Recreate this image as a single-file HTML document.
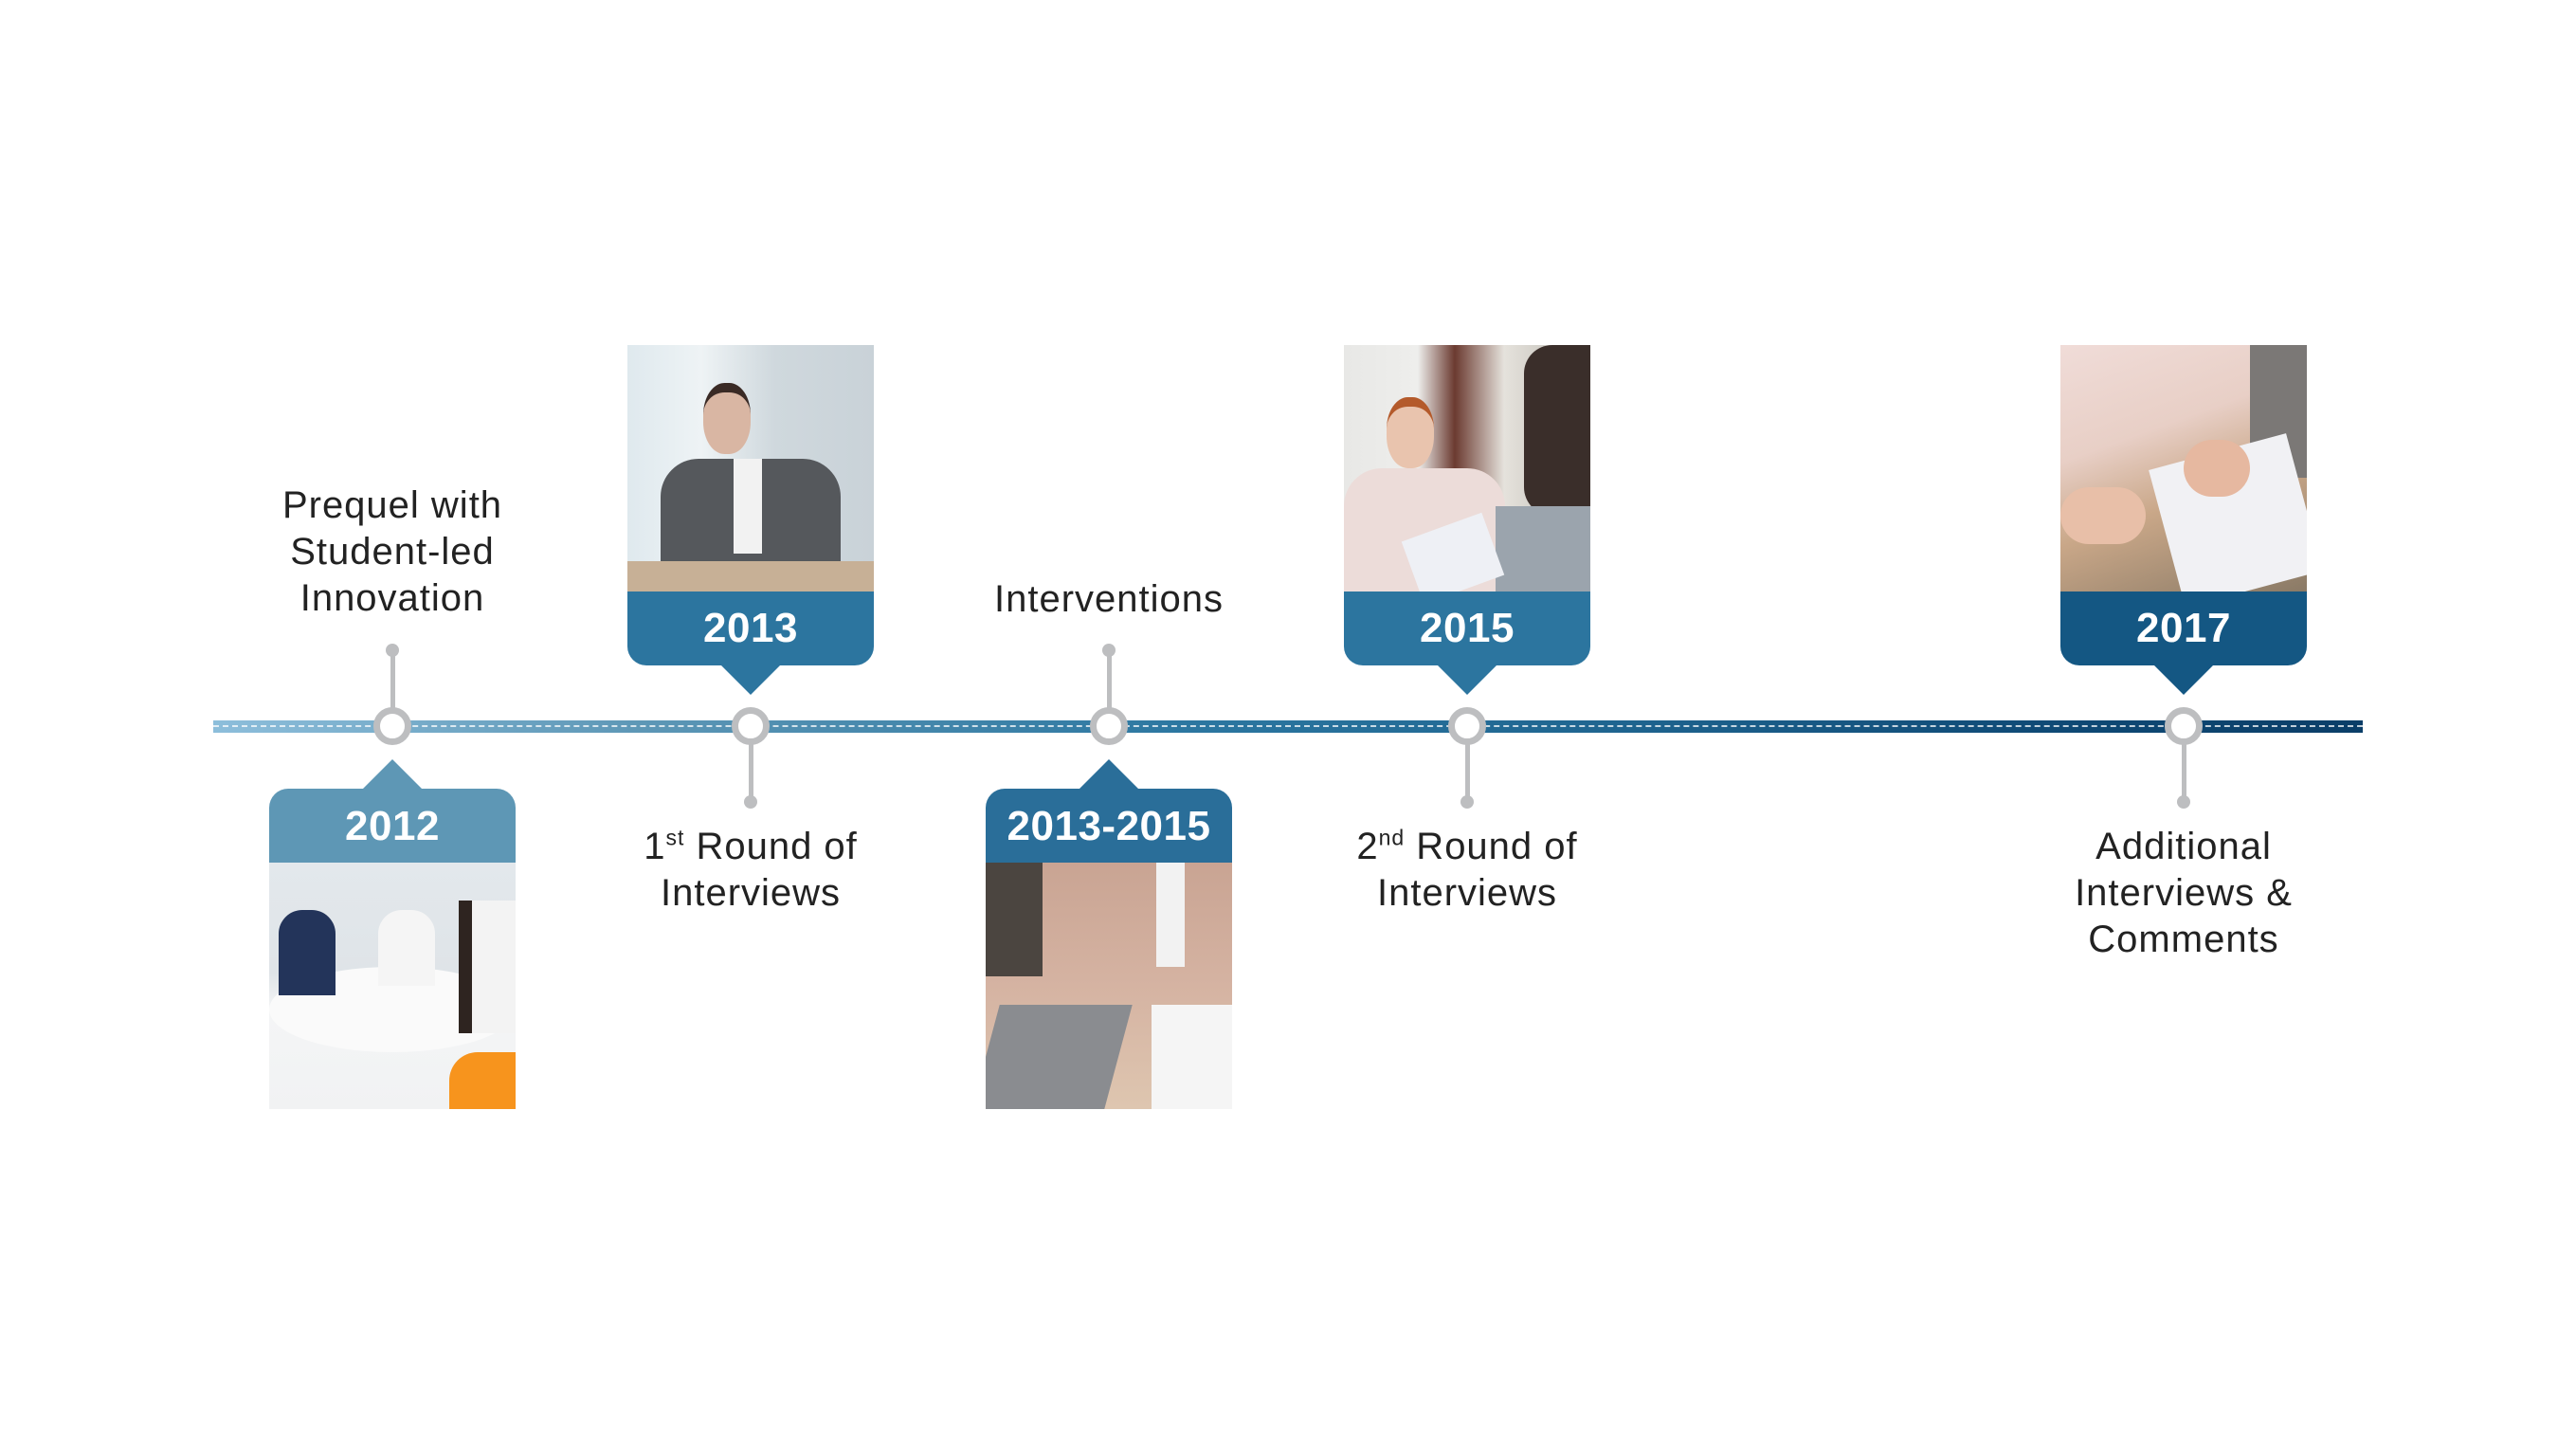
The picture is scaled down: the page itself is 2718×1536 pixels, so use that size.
<!DOCTYPE html>
<html><head><meta charset="utf-8"><style>
html,body{margin:0;padding:0;background:#fff}
body{width:2718px;height:1536px;position:relative;overflow:hidden;font-family:"Liberation Sans",sans-serif}
.abs{position:absolute}
.line{left:225px;top:760px;width:2268px;height:13px;background:linear-gradient(90deg,#8dbedb 0%,#5d97b6 20%,#2c77a1 45%,#1f6590 65%,#0f4a76 85%,#0b3e68 100%)}
.dash{left:225px;top:765px;width:2268px;height:0;border-top:2px dashed rgba(255,255,255,.75)}
.node{box-sizing:border-box;width:40px;height:40px;border:7px solid #bdbec0;border-radius:50%;background:#fff}
.stem{width:5px;background:#bdbec0}
.dot{width:14px;height:14px;border-radius:50%;background:#bdbec0}
.txt{color:#222;font-size:40px;line-height:49px;text-align:center;width:440px;letter-spacing:1px}
.txt sup{font-size:23px;line-height:0}
.year{color:#fff;font-size:44px;font-weight:bold;text-align:center;width:260px;letter-spacing:0.5px}
.photo{width:260px;height:260px;overflow:hidden}
</style></head><body>
<div class="abs line"></div>
<div class="abs dash"></div>

<!-- stems -->
<div class="abs stem" style="left:412px;top:686px;height:80px"></div>
<div class="abs dot" style="left:407px;top:679px"></div>
<div class="abs stem" style="left:1168px;top:686px;height:80px"></div>
<div class="abs dot" style="left:1163px;top:679px"></div>
<div class="abs stem" style="left:790px;top:766px;height:80px"></div>
<div class="abs dot" style="left:785px;top:839px"></div>
<div class="abs stem" style="left:1546px;top:766px;height:80px"></div>
<div class="abs dot" style="left:1541px;top:839px"></div>
<div class="abs stem" style="left:2302px;top:766px;height:80px"></div>
<div class="abs dot" style="left:2297px;top:839px"></div>

<!-- nodes -->
<div class="abs node" style="left:394px;top:746px"></div>
<div class="abs node" style="left:772px;top:746px"></div>
<div class="abs node" style="left:1150px;top:746px"></div>
<div class="abs node" style="left:1528px;top:746px"></div>
<div class="abs node" style="left:2284px;top:746px"></div>

<!-- top cards -->
<div class="abs photo" style="left:662px;top:364px;background:linear-gradient(90deg,#dfe9ee 0%,#eef3f5 30%,#cfd8dd 60%,#c9d2d8 100%)">
  <div class="abs" style="left:80px;top:40px;width:50px;height:65px;border-radius:45%;background:#d9b6a3;border-top:10px solid #3a2a25"></div>
  <div class="abs" style="left:35px;top:120px;width:190px;height:110px;background:#55585c;border-radius:40px 40px 0 0"></div>
  <div class="abs" style="left:112px;top:120px;width:30px;height:100px;background:#f2f2f2"></div>
  <div class="abs" style="left:0;top:228px;width:260px;height:32px;background:#c7b096"></div>
</div>
<div class="abs" style="left:662px;top:624px;width:260px;height:78px;background:#2c759f;border-radius:0 0 20px 20px"></div>
<div class="abs" style="left:759px;top:700px;width:0;height:0;border-left:33px solid transparent;border-right:33px solid transparent;border-top:33px solid #2c759f"></div>
<div class="abs year" style="left:662px;top:638px">2013</div>

<div class="abs photo" style="left:1418px;top:364px;background:linear-gradient(90deg,#e8e8e6 0%,#eeeeec 30%,#6b3a30 45%,#e5e2dc 65%,#b8b5ae 100%)">
  <div class="abs" style="left:45px;top:55px;width:50px;height:65px;border-radius:45%;background:#e9c4ae;border-top:10px solid #b45a2b"></div>
  <div class="abs" style="left:0;top:130px;width:170px;height:130px;background:#ecdcd9;border-radius:40px 40px 0 0"></div>
  <div class="abs" style="left:190px;top:0;width:70px;height:180px;background:#3a2e2a;border-radius:30px 0 0 30px"></div>
  <div class="abs" style="left:160px;top:170px;width:100px;height:90px;background:#9ba4ad"></div>
  <div class="abs" style="left:70px;top:190px;width:90px;height:70px;background:#eef0f5;transform:rotate(-20deg)"></div>
</div>
<div class="abs" style="left:1418px;top:624px;width:260px;height:78px;background:#2c759f;border-radius:0 0 20px 20px"></div>
<div class="abs" style="left:1515px;top:700px;width:0;height:0;border-left:33px solid transparent;border-right:33px solid transparent;border-top:33px solid #2c759f"></div>
<div class="abs year" style="left:1418px;top:638px">2015</div>

<div class="abs photo" style="left:2174px;top:364px;background:linear-gradient(160deg,#f0dcd8 0%,#e8cfc6 35%,#c9a788 60%,#8a7a66 100%)">
  <div class="abs" style="left:200px;top:0;width:60px;height:140px;background:#7b7876"></div>
  <div class="abs" style="left:110px;top:110px;width:150px;height:150px;background:#f1f1f4;transform:rotate(-15deg)"></div>
  <div class="abs" style="left:0;top:150px;width:90px;height:60px;background:#e8bfa8;border-radius:30px"></div>
  <div class="abs" style="left:130px;top:100px;width:70px;height:60px;background:#e6b8a0;border-radius:30px"></div>
</div>
<div class="abs" style="left:2174px;top:624px;width:260px;height:78px;background:#145783;border-radius:0 0 20px 20px"></div>
<div class="abs" style="left:2271px;top:700px;width:0;height:0;border-left:33px solid transparent;border-right:33px solid transparent;border-top:33px solid #145783"></div>
<div class="abs year" style="left:2174px;top:638px">2017</div>

<!-- bottom cards -->
<div class="abs" style="left:381px;top:801px;width:0;height:0;border-left:33px solid transparent;border-right:33px solid transparent;border-bottom:33px solid #5e97b5"></div>
<div class="abs" style="left:284px;top:832px;width:260px;height:78px;background:#5e97b5;border-radius:20px 20px 0 0"></div>
<div class="abs year" style="left:284px;top:847px">2012</div>
<div class="abs photo" style="left:284px;top:910px;background:linear-gradient(180deg,#e3e8ec 0%,#dfe4e8 45%,#f4f5f6 60%,#f1f2f3 100%)">
  <div class="abs" style="left:0;top:110px;width:260px;height:90px;background:#fafafa;border-radius:50%"></div>
  <div class="abs" style="left:10px;top:50px;width:60px;height:90px;background:#23345a;border-radius:25px 25px 0 0"></div>
  <div class="abs" style="left:115px;top:50px;width:60px;height:80px;background:#f5f5f5;border-radius:25px 25px 0 0"></div>
  <div class="abs" style="left:200px;top:40px;width:60px;height:140px;background:#f3f3f3;border-left:14px solid #2e2420"></div>
  <div class="abs" style="left:190px;top:200px;width:70px;height:60px;background:#f7941d;border-radius:30px 0 0 0"></div>
</div>

<div class="abs" style="left:1137px;top:801px;width:0;height:0;border-left:33px solid transparent;border-right:33px solid transparent;border-bottom:33px solid #2a6e99"></div>
<div class="abs" style="left:1040px;top:832px;width:260px;height:78px;background:#2a6e99;border-radius:20px 20px 0 0"></div>
<div class="abs year" style="left:1040px;top:847px">2013-2015</div>
<div class="abs photo" style="left:1040px;top:910px;background:linear-gradient(180deg,#c9a493 0%,#d5b3a2 50%,#dec6b0 100%)">
  <div class="abs" style="left:0;top:0;width:60px;height:120px;background:#4b4540"></div>
  <div class="abs" style="left:180px;top:0;width:30px;height:110px;background:#f2f2f2"></div>
  <div class="abs" style="left:0;top:150px;width:140px;height:110px;background:#8a8c90;transform:skewX(-15deg)"></div>
  <div class="abs" style="left:175px;top:150px;width:85px;height:110px;background:#f5f5f5"></div>
</div>

<!-- texts -->
<div class="abs txt" style="left:194px;top:509px">Prequel with<br>Student-led<br>Innovation</div>
<div class="abs txt" style="left:950px;top:608px">Interventions</div>
<div class="abs txt" style="left:572px;top:869px">1<sup>st</sup> Round of<br>Interviews</div>
<div class="abs txt" style="left:1328px;top:869px">2<sup>nd</sup> Round of<br>Interviews</div>
<div class="abs txt" style="left:2084px;top:869px">Additional<br>Interviews &amp;<br>Comments</div>
</body></html>
